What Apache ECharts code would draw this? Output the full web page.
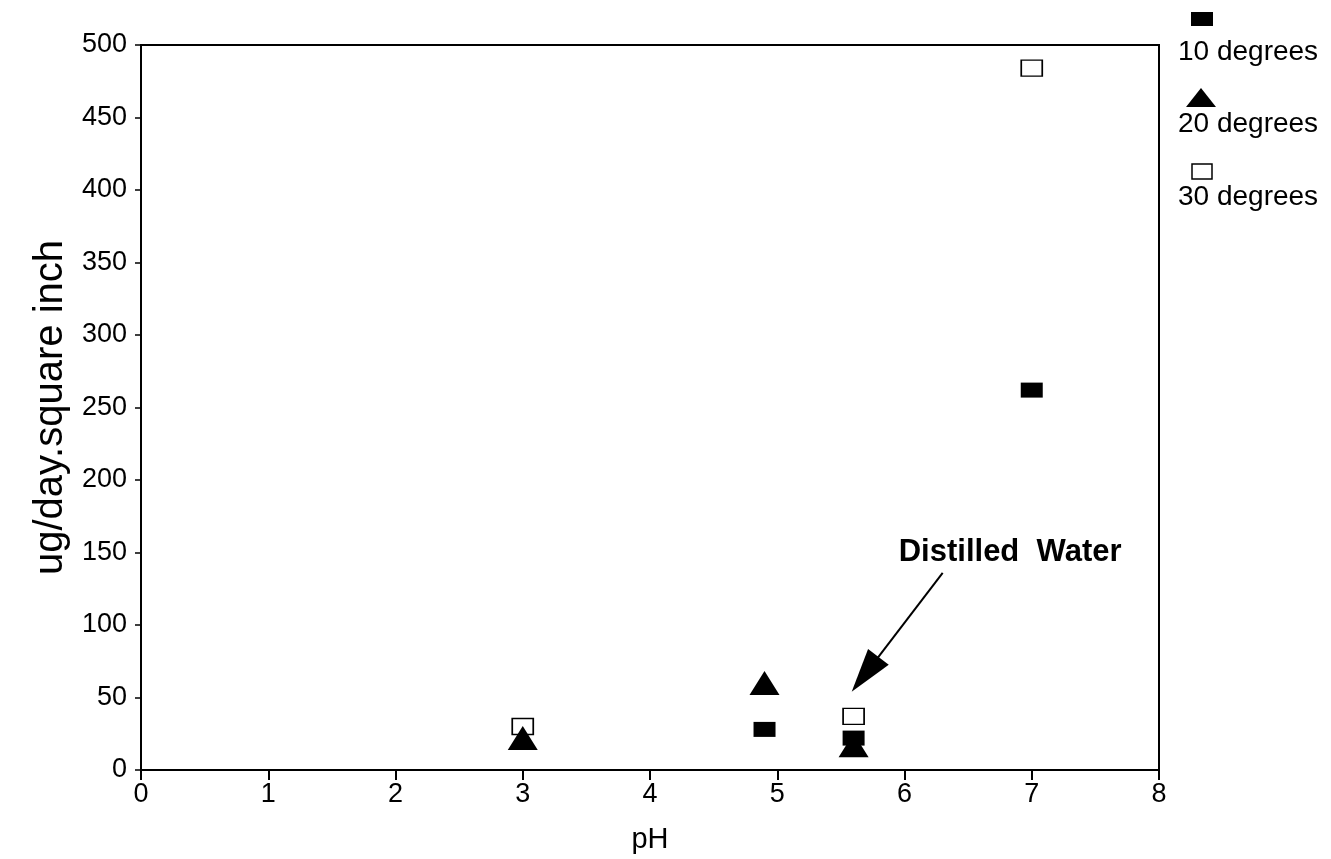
<!DOCTYPE html>
<html lang="en">
<head>
    <meta charset="UTF-8">
    <title>pH chart</title>
    <script src="https://cdn.jsdelivr.net/npm/echarts@6/dist/echarts.min.js"></script>
    <style>
        html, body { margin: 0; padding: 0; background: #fff; }
        .box { width: 1331px; height: 859px; }
    </style>
</head>
<body>
<div id="show_echarts" class="box"></div>
<script>
    // readings: [pH, ug/day.square inch]
    var deg10 = [[4.9, 28], [5.6, 22], [7.0, 262]];
    var deg20 = [[3.0, 22], [4.9, 60], [5.6, 17]];
    var deg30 = [[3.0, 30], [5.6, 37], [7.0, 484]];
    var seriesNames = ['10 degrees', '20 degrees', '30 degrees'];
    var xTicks = [0, 1, 2, 3, 4, 5, 6, 7, 8];
    var yTicks = [0, 50, 100, 150, 200, 250, 300, 350, 400, 450, 500];
    // arrow for the "Distilled Water" note (end is the centre of the arrow head)
    var arrowFrom = [6.3, 136];
    var arrowTo = [5.69, 66];
    var noteAt = [6.83, 150];

    var font = "'Liberation Sans', Arial, Helvetica, sans-serif";
    var ink = '#000';

    function show() {
        var myChart = echarts.init(document.querySelector('.box'));
        var option = {
            backgroundColor: '#fff',
            animation: false,
            grid: {
                left: 141, right: 172, top: 45, bottom: 88,
                show: true, borderColor: ink, borderWidth: 2
            },
            xAxis: {
                type: 'value',
                min: xTicks[0], max: xTicks[xTicks.length - 1], interval: 1,
                name: 'pH', nameLocation: 'middle', nameGap: 55,
                nameTextStyle: { fontSize: 29, color: ink, fontFamily: font },
                axisLine: { lineStyle: { color: ink, width: 2 } },
                axisTick: { length: 10, lineStyle: { color: ink, width: 2 } },
                axisLabel: { fontSize: 27, color: ink, fontFamily: font, margin: 11 },
                splitLine: { show: false }
            },
            yAxis: {
                type: 'value',
                min: yTicks[0], max: yTicks[yTicks.length - 1], interval: 50,
                name: 'ug/day.square inch', nameLocation: 'middle', nameGap: 67,
                nameTextStyle: { fontSize: 40, color: ink, fontFamily: font },
                axisLine: { show: true, lineStyle: { color: ink, width: 2 } },
                axisTick: { show: true, length: 6, lineStyle: { color: ink, width: 1.5 } },
                axisLabel: { fontSize: 27, color: ink, fontFamily: font, margin: 14 },
                splitLine: { show: false }
            },
            series: [
                {
                    name: seriesNames[2],
                    type: 'scatter',
                    data: deg30,
                    symbol: 'rect',
                    symbolSize: [21, 16],
                    itemStyle: { color: '#fff', borderColor: ink, borderWidth: 1.5, opacity: 1 },
                    z: 2
                },
                {
                    name: seriesNames[0],
                    type: 'scatter',
                    data: deg10,
                    symbol: 'rect',
                    symbolSize: [22, 15],
                    itemStyle: { color: ink, opacity: 1 },
                    z: 3
                },
                {
                    name: seriesNames[1],
                    type: 'scatter',
                    data: deg20,
                    symbol: 'triangle',
                    symbolSize: [30, 24],
                    itemStyle: { color: ink, opacity: 1 },
                    z: 4,
                    markLine: {
                        silent: true,
                        symbol: ['none', 'triangle'],
                        symbolSize: [26, 44],
                        lineStyle: { color: ink, width: 2, type: 'solid' },
                        itemStyle: { color: ink },
                        label: { show: false },
                        data: [[{ coord: arrowFrom }, { coord: arrowTo }]]
                    },
                    markPoint: {
                        silent: true,
                        symbol: 'circle',
                        symbolSize: 0,
                        label: {
                            show: true,
                            formatter: 'Distilled  Water',
                            fontSize: 31,
                            fontWeight: 'bold',
                            color: ink,
                            fontFamily: font
                        },
                        data: [{ coord: noteAt }]
                    }
                }
            ],
            graphic: [
                { type: 'rect', shape: { x: 1191, y: 12, width: 22, height: 14 }, style: { fill: ink } },
                { type: 'text', x: 1178, y: 38, style: { text: seriesNames[0], font: '28px ' + font, fill: ink } },
                { type: 'polygon', shape: { points: [[1201, 88], [1186, 107], [1216, 107]] }, style: { fill: ink } },
                { type: 'text', x: 1178, y: 110, style: { text: seriesNames[1], font: '28px ' + font, fill: ink } },
                { type: 'rect', shape: { x: 1192, y: 164, width: 20, height: 15 }, style: { fill: '#fff', stroke: ink, lineWidth: 1.5 } },
                { type: 'text', x: 1178, y: 183, style: { text: seriesNames[2], font: '28px ' + font, fill: ink } }
            ]
        };
        myChart.setOption(option);
    }
    show();
</script>
</body>
</html>
